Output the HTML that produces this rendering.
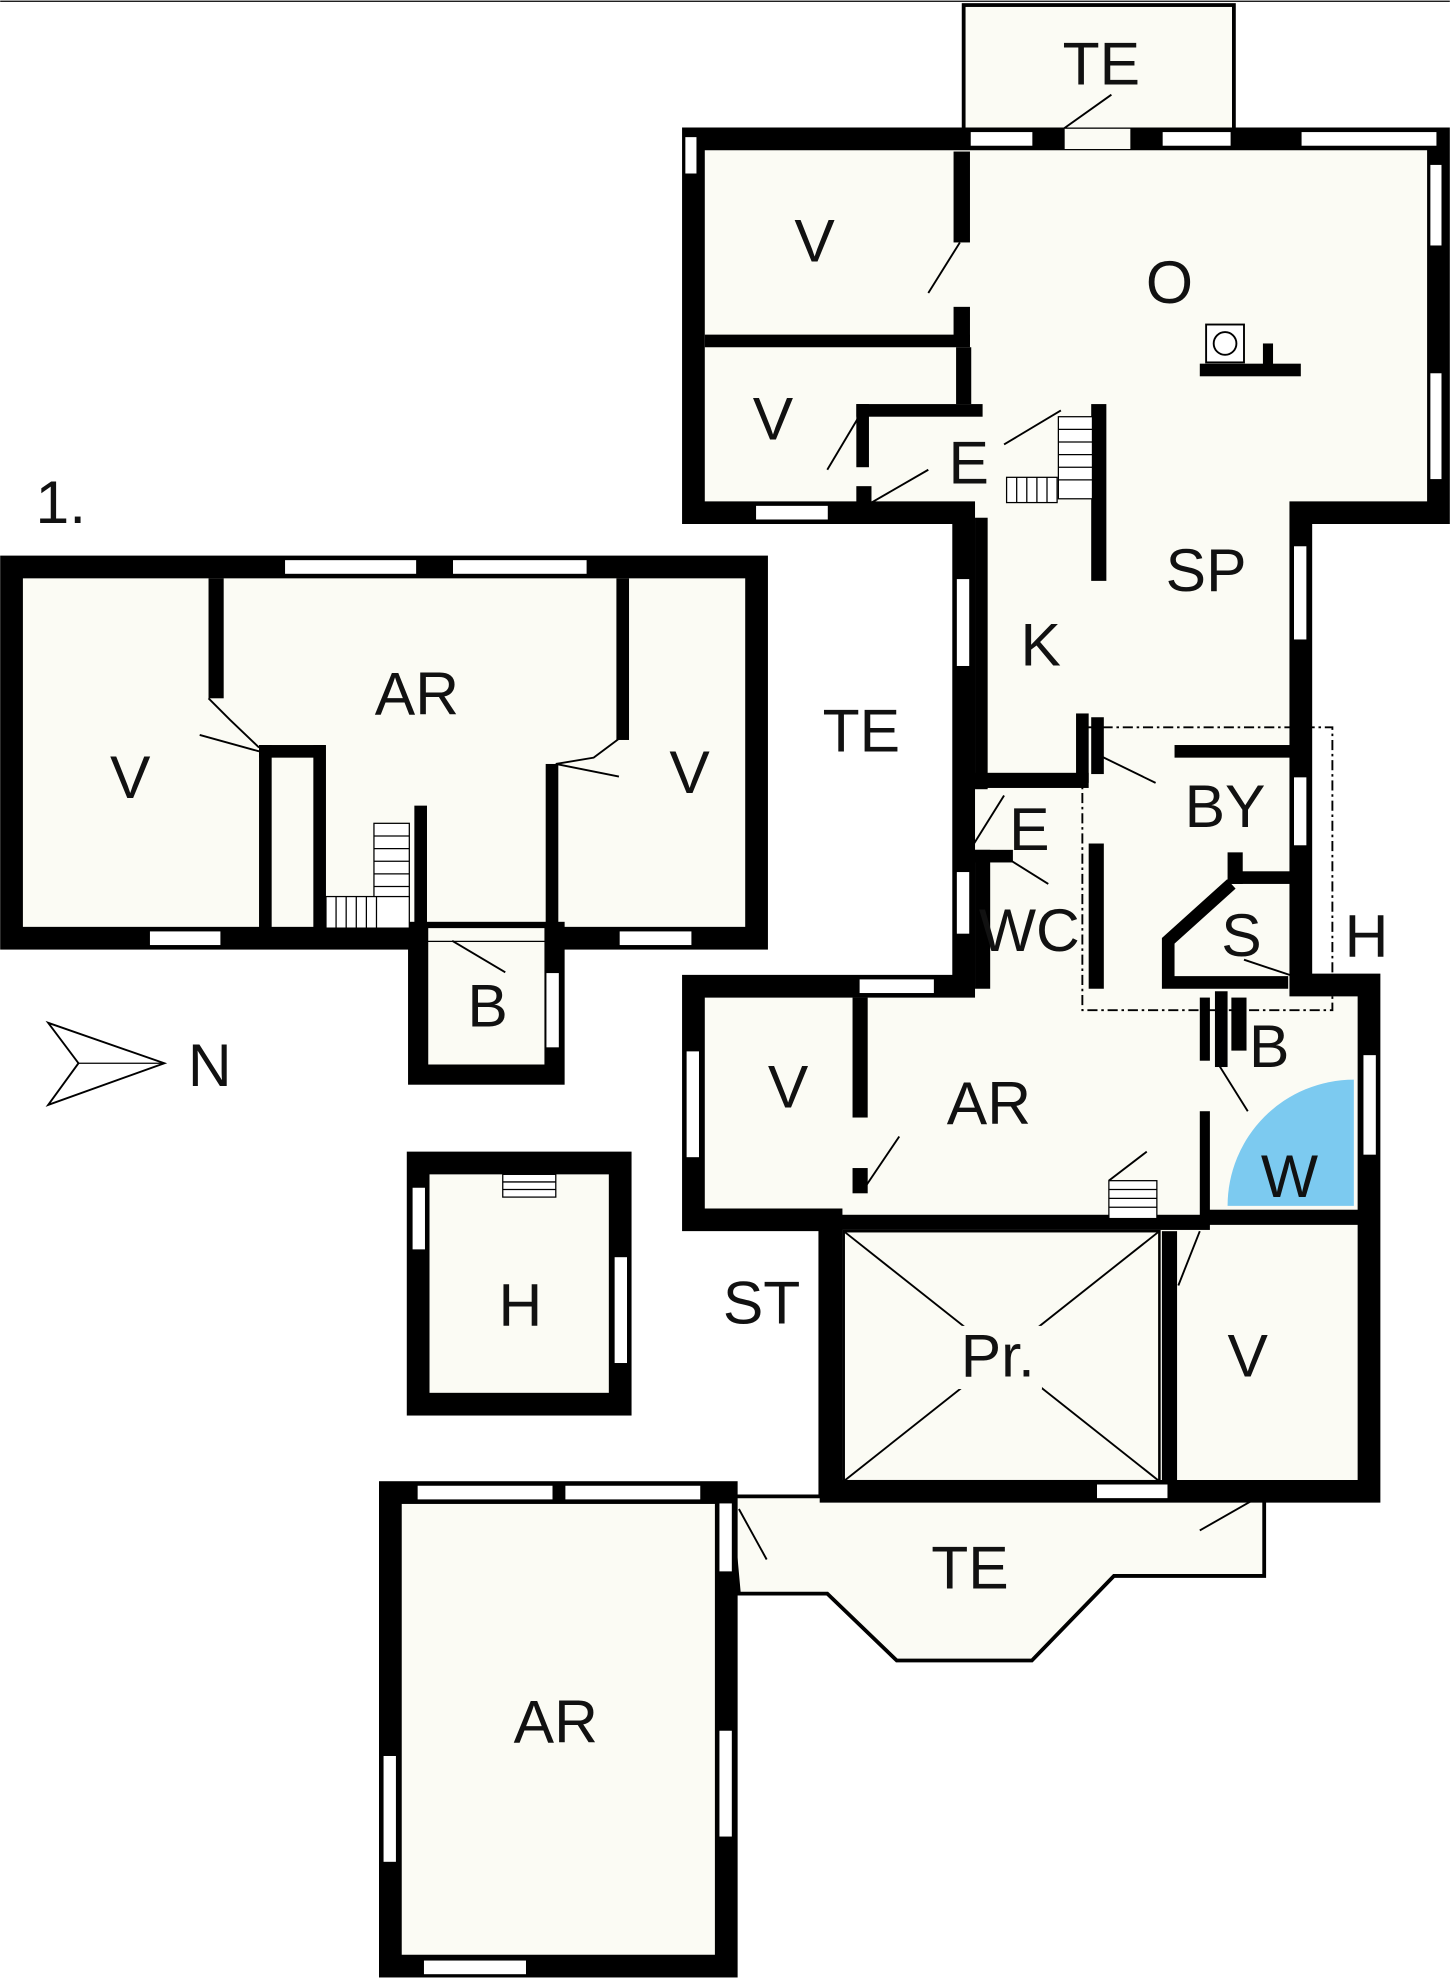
<!DOCTYPE html>
<html><head><meta charset="utf-8">
<style>
html,body{margin:0;padding:0;background:#fff;}
svg{display:block}
text{font-family:"Liberation Sans",Arial,sans-serif;font-size:48px;fill:#111;text-anchor:middle}
</style></head>
<body>
<svg width="1450" height="1980" viewBox="0 0 1148 1568" xmlns="http://www.w3.org/2000/svg">
<rect width="1148" height="1568" fill="#fff"/>
<line x1="0" y1="1" x2="1148" y2="1" stroke="#000" stroke-width="1"/>

<rect x="763" y="4" width="214" height="100" fill="#fbfbf4" stroke="#000" stroke-width="3"/>
<polygon points="578,1185 1001,1185 1001,1248 882,1248 817,1315 710,1315 655,1262 585,1262" fill="#fbfbf4" stroke="#000" stroke-width="3"/>

<polygon points="549,110 1139,110 1139,406 1030,406 1030,780 1084,780 1084,1181 658,1181 658,966 549,966 549,781 763,781 763,406 549,406" fill="#fbfbf4" stroke="#000" stroke-width="18"/>

<rect x="9" y="449" width="590" height="294" fill="#fbfbf4" stroke="#000" stroke-width="18"/>
<rect x="331" y="738" width="108" height="113" fill="#fbfbf4" stroke="#000" stroke-width="16"/>
<rect x="339" y="735" width="92" height="10" fill="#fbfbf4"/>
<rect x="331" y="921" width="160" height="191" fill="#fbfbf4" stroke="#000" stroke-width="18"/>
<rect x="309" y="1182" width="266" height="375" fill="#fbfbf4" stroke="#000" stroke-width="18"/>

<g fill="#000">
<rect x="165" y="458" width="12" height="95"/>
<rect x="488" y="458" width="10" height="128"/>
<rect x="205" y="590" width="52" height="10"/>
<rect x="205" y="590" width="10" height="145"/>
<rect x="248" y="590" width="10" height="145"/>
<rect x="328" y="638" width="10" height="100"/>
<rect x="432" y="605" width="10" height="135"/>
<rect x="755" y="120" width="13" height="72"/>
<rect x="755" y="243" width="13" height="30"/>
<rect x="558" y="265" width="210" height="10"/>
<rect x="757" y="275" width="12" height="45"/>
<rect x="678" y="320" width="100" height="10"/>
<rect x="678" y="320" width="10" height="50"/>
<rect x="678" y="385" width="12" height="25"/>
<rect x="864" y="320" width="12" height="140"/>
<rect x="772" y="410" width="10" height="215"/>
<rect x="772" y="612" width="90" height="12"/>
<rect x="852" y="565" width="10" height="55"/>
<rect x="864" y="568" width="10" height="45"/>
<rect x="930" y="590" width="92" height="10"/>
<rect x="772" y="673" width="12" height="110"/>
<rect x="772" y="673" width="30" height="10"/>
<rect x="862" y="668" width="12" height="115"/>
<rect x="972" y="675" width="12" height="25"/>
<rect x="975" y="690" width="50" height="10"/>
<rect x="962" y="785" width="10" height="60"/>
<rect x="975" y="790" width="12" height="42"/>
<rect x="675" y="790" width="12" height="95"/>
<rect x="675" y="925" width="12" height="20"/>
<rect x="558" y="962" width="400" height="12"/>
<rect x="950" y="790" width="8" height="50"/>
<rect x="950" y="880" width="8" height="90"/>
<rect x="955" y="958" width="130" height="12"/>
<rect x="920" y="975" width="12" height="200"/>
<rect x="648" y="970" width="12" height="215"/>
<rect x="950" y="288" width="80" height="10"/>
<rect x="1000" y="272" width="8" height="20"/>
</g>
<polyline points="975,700 925,745 925,778 1020,778" fill="none" stroke="#000" stroke-width="10"/>
<rect x="955" y="257" width="30" height="30" fill="#fff" stroke="#000" stroke-width="1.5"/>
<circle cx="970" cy="272" r="9" fill="none" stroke="#000" stroke-width="1.5"/>

<rect x="668" y="975" width="250" height="198" fill="#fbfbf4" stroke="#000" stroke-width="2"/>
<line x1="668" y1="975" x2="918" y2="1173" stroke="#000" stroke-width="1.5"/>
<line x1="918" y1="975" x2="668" y2="1173" stroke="#000" stroke-width="1.5"/>
<rect x="755" y="1050" width="70" height="50" fill="#fbfbf4"/>

<path d="M972,955 A100,100 0 0 1 1072,855 L1072,955 Z" fill="#7ccaf0"/>

<rect x="857" y="576" width="198" height="224" fill="none" stroke="#000" stroke-width="1.5" stroke-dasharray="8,3,2,3"/>

<g stroke="#000" stroke-width="1.5" fill="none">
<line x1="735" y1="232" x2="760" y2="192"/>
<line x1="655" y1="372" x2="680" y2="330"/>
<line x1="690" y1="398" x2="735" y2="372"/>
<line x1="795" y1="352" x2="840" y2="325"/>
<line x1="842" y1="102" x2="880" y2="75"/>
<line x1="870" y1="598" x2="915" y2="620"/>
<line x1="770" y1="670" x2="795" y2="630"/>
<line x1="790" y1="675" x2="830" y2="700"/>
<line x1="963" y1="840" x2="988" y2="880"/>
<line x1="985" y1="760" x2="1030" y2="775"/>
<line x1="685" y1="940" x2="712" y2="900"/>
<line x1="878" y1="935" x2="908" y2="912"/>
<line x1="933" y1="1018" x2="950" y2="975"/>
<line x1="950" y1="1212" x2="992" y2="1188"/>
<line x1="585" y1="1195" x2="607" y2="1235"/>
<line x1="158" y1="582" x2="205" y2="595"/>
<line x1="440" y1="605" x2="490" y2="615"/>
<line x1="358" y1="745" x2="400" y2="770"/>
<polyline points="165,553 182,570 205,592"/>
<polyline points="490,585 470,600 440,605"/>
</g>
<g stroke="#000" stroke-width="1" fill="#fff">
<rect x="838" y="330" width="27" height="65"/>
<rect x="797" y="378" width="40" height="20"/>
<rect x="296" y="652" width="28" height="60"/>
<rect x="258" y="710" width="66" height="25"/>
<rect x="878" y="935" width="38" height="30"/>
<rect x="398" y="930" width="42" height="18"/>
</g>
<g stroke="#000" stroke-width="1">
<path d="M838,340h27M838,350h27M838,360h27M838,370h27M838,380h27M805,378v20M813,378v20M821,378v20M829,378v20"/>
<path d="M296,662h28M296,672h28M296,682h28M296,692h28M296,702h28M266,710v25M274,710v25M282,710v25M290,710v25M298,710v25"/>
<path d="M878,942h38M878,949h38M878,956h38M398,936h42M398,942h42"/>
</g>

<g fill="#fff" stroke="#000" stroke-width="1.2">
<rect x="225" y="443" width="105" height="12"/><rect x="358" y="443" width="107" height="12"/>
<rect x="118" y="737" width="57" height="12"/><rect x="490" y="737" width="58" height="12"/>
<rect x="432" y="770" width="11" height="60"/>
<rect x="542" y="108" width="10" height="30"/>
<rect x="768" y="104" width="50" height="12"/><rect x="920" y="104" width="55" height="12"/><rect x="1030" y="104" width="108" height="12"/>
<rect x="1132" y="130" width="10" height="65"/><rect x="1132" y="295" width="10" height="85"/>
<rect x="598" y="400" width="58" height="12"/>
<rect x="757" y="458" width="11" height="70"/>
<rect x="1024" y="432" width="11" height="75"/><rect x="1024" y="615" width="11" height="55"/>
<rect x="757" y="690" width="11" height="50"/>
<rect x="680" y="775" width="60" height="12"/>
<rect x="543" y="832" width="11" height="85"/>
<rect x="1079" y="835" width="11" height="80"/>
<rect x="868" y="1175" width="57" height="12"/>
<rect x="330" y="1176" width="108" height="12"/><rect x="447" y="1176" width="108" height="12"/>
<rect x="569" y="1190" width="11" height="55"/>
<rect x="569" y="1370" width="11" height="85"/>
<rect x="303" y="1390" width="11" height="85"/>
<rect x="335" y="1552" width="82" height="12"/>
<rect x="326" y="940" width="11" height="50"/><rect x="486" y="995" width="11" height="85"/>
<rect x="843" y="102" width="52" height="16" stroke="none" fill="#fbfbf4"/>
</g>

<polygon points="38,810 130,842 38,875 62,842" fill="#fff" stroke="#000" stroke-width="1.5"/>
<line x1="62" y1="842" x2="130" y2="842" stroke="#000" stroke-width="1"/>

<text x="48" y="414">1.</text>
<text x="103" y="632">V</text>
<text x="330" y="566">AR</text>
<text x="546" y="628">V</text>
<text x="386" y="813">B</text>
<text x="682" y="595">TE</text>
<text x="166" y="860">N</text>
<text x="872" y="67">TE</text>
<text x="645" y="207">V</text>
<text x="926" y="240">O</text>
<text x="612" y="348">V</text>
<text x="767" y="383">E</text>
<text x="955" y="468">SP</text>
<text x="824" y="527">K</text>
<text x="970" y="655">BY</text>
<text x="815" y="673">E</text>
<text x="815" y="753">WC</text>
<text x="983" y="757">S</text>
<text x="1082" y="758">H</text>
<text x="1005" y="845">B</text>
<text x="624" y="877">V</text>
<text x="783" y="890">AR</text>
<text x="1021" y="948">W</text>
<text x="603" y="1048">ST</text>
<text x="790" y="1090">Pr.</text>
<text x="988" y="1090">V</text>
<text x="768" y="1258">TE</text>
<text x="440" y="1380">AR</text>
<text x="412" y="1050">H</text>
</svg>
</body></html>
